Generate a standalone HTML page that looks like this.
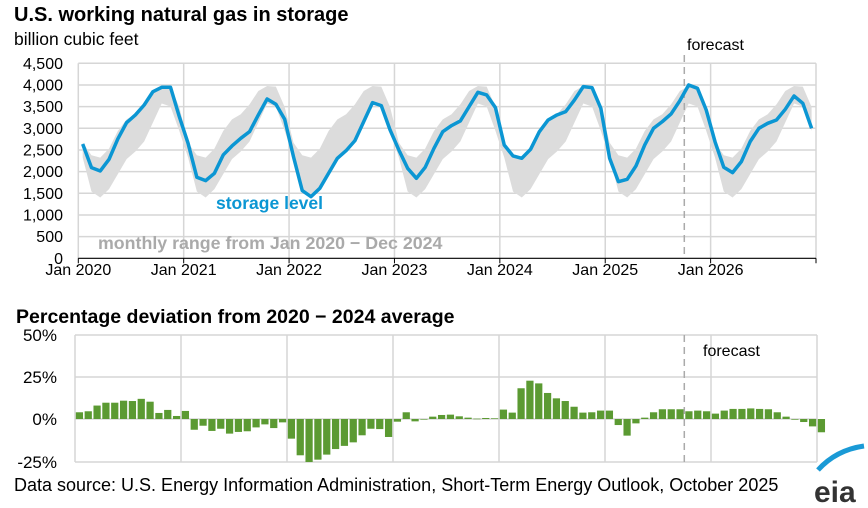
<!DOCTYPE html>
<html><head><meta charset="utf-8"><style>
html,body{margin:0;padding:0;background:#fff;}
svg{display:block;font-family:"Liberation Sans",Arial,sans-serif;}
</style></head><body>
<svg id="s" width="868" height="508" viewBox="0 0 868 508" xmlns="http://www.w3.org/2000/svg">
<text x="14" y="21" font-size="20" font-weight="bold" fill="#000">U.S. working natural gas in storage</text>
<text x="14" y="45" font-size="17.5" fill="#000">billion cubic feet</text>
<g id="gtop"></g>
<text x="16" y="323" font-size="19.5" font-weight="bold" fill="#000">Percentage deviation from 2020 − 2024 average</text>
<g id="gbot"></g>
<text x="14" y="491" font-size="18" fill="#000">Data source: U.S. Energy Information Administration, Short-Term Energy Outlook, October 2025</text>
<path d="M818 470 Q836 450 864 446" stroke="#1a9ad6" stroke-width="5" fill="none"/>
<text x="814" y="502" font-size="30" font-weight="bold" fill="#333">eia</text>
</svg>
<script>
(function(){
const NS="http://www.w3.org/2000/svg";
function el(p,t,a,txt){const e=document.createElementNS(NS,t);for(const k in a)e.setAttribute(k,a[k]);if(txt!=null)e.textContent=txt;p.appendChild(e);return e;}
const gt=document.getElementById('gtop'),gb=document.getElementById('gbot');
const v=[2638,2092,2015,2285,2754,3131,3308,3538,3846,3946,3946,3270,2654,1870,1792,1962,2385,2592,2769,2923,3308,3677,3554,3208,2346,1562,1423,1615,1962,2308,2485,2715,3154,3592,3523,2962,2500,2077,1846,2100,2538,2923,3062,3169,3500,3831,3769,3477,2615,2362,2308,2515,2923,3192,3308,3385,3654,3962,3938,3462,2308,1769,1823,2131,2615,3000,3154,3331,3638,4000,3923,3423,2692,2100,1977,2231,2692,3000,3115,3192,3438,3746,3577,3000];
const L=78.3,R=816,B=258.3,T=63.3,mw=(R-L)/84;
const X=i=>L+(i+0.5)*mw, Y=val=>B-(val/4500)*(B-T);
for(let k=1;k<=9;k++){const y=Y(k*500);el(gt,'line',{x1:L,x2:R,y1:y,y2:y,stroke:'#d6d6d6','stroke-width':1.5});}
for(let yr=0;yr<=7;yr++){const x=L+yr*12*mw;el(gt,'line',{x1:x,x2:x,y1:T,y2:B,stroke:'#d6d6d6','stroke-width':1.5});}
let mn=[],mx=[];for(let m=0;m<12;m++){let a=[];for(let y=0;y<5;y++)a.push(v[y*12+m]);mn.push(Math.min(...a)-20);mx.push(Math.max(...a)+15);}
let up=[],lo=[];for(let i=0;i<84;i++){up.push(X(i)+','+Y(mx[i%12]));lo.unshift(X(i)+','+Y(mn[i%12]));}
el(gt,'polygon',{points:up.concat(lo).join(' '),fill:'#dcdcdc'});
el(gt,'line',{x1:L,x2:R,y1:B,y2:B,stroke:'#000','stroke-width':1.2});
for(let yr=0;yr<=7;yr++){const x=L+yr*12*mw;el(gt,'line',{x1:x,x2:x,y1:B,y2:B+5,stroke:'#000','stroke-width':1});}
const yrs=['Jan 2020','Jan 2021','Jan 2022','Jan 2023','Jan 2024','Jan 2025','Jan 2026'];
yrs.forEach((t,k)=>el(gt,'text',{x:L+k*12*mw,y:275,'font-size':16,'text-anchor':'middle'},t));
for(let k=0;k<=9;k++){el(gt,'text',{x:63,y:Y(k*500)+5.5,'font-size':16,'text-anchor':'end'},(k*500).toLocaleString('en-US'));}
el(gt,'line',{x1:684.3,x2:684.3,y1:55,y2:B,stroke:'#aaa','stroke-width':1.5,'stroke-dasharray':'7,5'});
el(gt,'text',{x:687,y:50,'font-size':16},'forecast');
el(gt,'polyline',{points:v.map((val,i)=>X(i)+','+Y(val)).join(' '),fill:'none',stroke:'#0b96d3','stroke-width':3.5,'stroke-linejoin':'round'});
el(gt,'text',{x:216,y:209,'font-size':17.5,'font-weight':'bold',fill:'#0b96d3'},'storage level');
el(gt,'text',{x:98,y:249,'font-size':17.8,'font-weight':'bold',fill:'#aaa'},'monthly range from Jan 2020 − Dec 2024');
const d=[4,4.6,8,9.7,9.7,10.9,10.7,12,10.3,3.6,5.4,1.8, 4.8,-6.4,-4,-7.1,-5.8,-8.7,-7.7,-7.3,-5,-3.2,-5.4,-2, -11.7,-21.6,-25.6,-24.2,-21.2,-17.9,-16,-13.9,-9.7,-5.8,-6,-10.7, -1.6,4,-1.4,0,1.4,2.4,2.6,1.6,0.8,0.2,0.6,0.4, 5.6,3.8,18.3,22.8,21.2,15.5,12.3,10.7,7.3,3.8,4,5,5, -3.6,-9.9,-2.6,0.8,4,5.8,5.8,5.8,4.6,5,4.6,3.2, 5,6,6,6.3,6,5.8,4,1.4,-0.4,-1.8,-4.4,-7.9];
const bL=75,bR=817,bT=335,bB=462,z=419,bw=(bR-bL)/84,py=42/25;
for(let k=0;k<3;k++){const y=bT+k*42;el(gb,'line',{x1:bL,x2:bR,y1:y,y2:y,stroke:'#d6d6d6','stroke-width':1.5});}
el(gb,'line',{x1:bL,x2:bR,y1:bB,y2:bB,stroke:'#d6d6d6','stroke-width':1.5});
for(let yr=0;yr<=7;yr++){const x=bL+yr*12*bw;el(gb,'line',{x1:x,x2:x,y1:bT,y2:bB,stroke:'#d6d6d6','stroke-width':1.5});}
d.forEach((p,i)=>{const h=Math.abs(p)*py;el(gb,'rect',{x:bL+i*bw+0.8,y:p>=0?z-h:z,width:bw-1.6,height:Math.max(h,0.6),fill:'#5b9a32'});});
[['50%',bT],['25%',377],['0%',z],['-25%',bB]].forEach(([t,y])=>el(gb,'text',{x:57,y:y+6,'font-size':17,'text-anchor':'end'},t));
el(gb,'line',{x1:684.3,x2:684.3,y1:bT,y2:bB,stroke:'#aaa','stroke-width':1.5,'stroke-dasharray':'7,5'});
el(gb,'text',{x:703,y:356,'font-size':16},'forecast');
})();
</script>
</body></html>
